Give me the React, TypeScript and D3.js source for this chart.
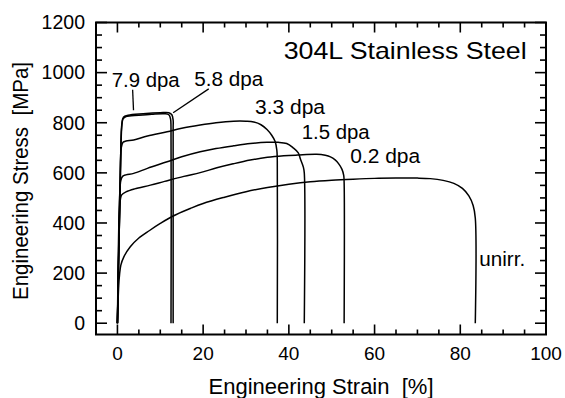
import React, { useEffect, useRef } from 'react';
import * as d3 from 'd3';

// strain [%], stress [MPa]
const unirr: [number, number][] = [
  [0, 0], [0.3, 150], [0.5, 195], [0.8, 232], [1.5, 265], [3, 305], [5, 340],
  [7.5, 370], [10, 398], [13, 428], [17, 458], [20, 478], [25, 503], [30, 525],
  [35, 542], [40, 555], [45, 565], [50, 571], [55, 575], [60, 578], [65, 579],
  [70, 579], [73, 577], [76, 570], [78.5, 558], [80.5, 538], [82, 508],
  [83, 470], [83.5, 420], [83.5, 0],
];
const dpa02: [number, number][] = [
  [0, 0], [0.5, 430], [0.7, 495], [1, 512], [2, 524], [4, 536], [7.7, 551],
  [11, 566], [15.5, 586], [19.3, 601], [23.2, 620], [27, 636], [31, 651],
  [35, 662], [38.8, 668], [42, 671], [46.5, 674], [48.5, 670], [49.7, 664],
  [50.8, 652], [51.6, 637], [52.4, 614], [52.8, 590], [52.9, 560], [52.9, 0],
];
const dpa15: [number, number][] = [
  [0, 0], [0.5, 500], [0.8, 570], [1.2, 586], [2, 592], [3.8, 598], [7, 618],
  [11.6, 644], [15, 664], [19.3, 684], [23, 697], [27.1, 708], [31, 717],
  [34.9, 722], [37.5, 722], [39.5, 717], [41, 700], [42.2, 680], [42.7, 655],
  [43.4, 622], [43.6, 600], [43.6, 0],
];
const dpa33: [number, number][] = [
  [0, 0], [0.6, 560], [0.9, 700], [1.3, 722], [2, 727], [3.8, 731], [7, 747],
  [11.6, 764], [15, 778], [19.3, 791], [23, 800], [27.1, 806], [30, 806],
  [31.8, 803], [33.5, 792], [34.9, 773], [36, 750], [36.8, 725], [37.2, 690],
  [37.3, 650], [37.3, 0],
];
const dpa58: [number, number][] = [
  [0, 0], [0.7, 600], [1.0, 790], [1.4, 822], [2.5, 830], [6, 836], [10, 840],
  [12, 840], [12.7, 832], [13.0, 810], [13.0, 780], [13.0, 0],
];
const dpa79: [number, number][] = [
  [0, 0], [0.7, 600], [1.0, 780], [1.3, 815], [2, 825], [5, 830], [8, 834],
  [11, 836], [12, 832], [12.4, 815], [12.5, 780], [12.5, 0],
];

const series = [unirr, dpa02, dpa15, dpa33, dpa58, dpa79];

const xMajor = [0, 20, 40, 60, 80, 100];
const yMajor = [0, 200, 400, 600, 800, 1000, 1200];

// curve labels: text, left x [%], baseline [MPa], rendered width
const labels = [
  { text: '7.9 dpa', x: -1.34, y: 944, w: 68 },
  { text: '5.8 dpa', x: 17.9, y: 946, w: 69 },
  { text: '3.3 dpa', x: 32.1, y: 835, w: 70 },
  { text: '1.5 dpa', x: 43.0, y: 734, w: 68 },
  { text: '0.2 dpa', x: 54.3, y: 640, w: 70 },
  { text: 'unirr.', x: 84.4, y: 228, w: 46 },
];
// leader lines [x1, y1, x2, y2] in data units
const leaders = [
  [3.55, 932, 3.75, 850],
  [21.3, 935, 13.0, 840],
];

const FONT = "'Liberation Sans', Arial, Helvetica, sans-serif";

const App = () => {
  const svgRef = useRef<SVGSVGElement>(null);

  useEffect(() => {
    const width = 565;
    const height = 398;
    const left = 96, right = 546, top = 22.5, bottom = 334.5;

    const x = d3.scaleLinear().domain([-5, 100]).range([left, right]);
    const y = d3.scaleLinear().domain([-45, 1200]).range([bottom, top]);

    const svg = d3.select(svgRef.current);
    svg.selectAll('*').remove();
    svg.attr('width', width).attr('height', height);

    svg.append('rect').attr('width', width).attr('height', height).attr('fill', '#fff');

    // ticks (inward on all four sides)
    const g = svg.append('g').attr('stroke', '#000').attr('stroke-width', 1.6);
    const xMinor = d3.range(0, 101, 5);
    const yMinor = d3.range(0, 1201, 50);
    xMinor.forEach((v) => {
      const len = v % 20 === 0 ? 10 : 5;
      g.append('line').attr('x1', x(v)).attr('x2', x(v)).attr('y1', bottom).attr('y2', bottom - len);
      g.append('line').attr('x1', x(v)).attr('x2', x(v)).attr('y1', top).attr('y2', top + len);
    });
    yMinor.forEach((v) => {
      const len = v % 200 === 0 ? 11 : 6;
      g.append('line').attr('y1', y(v)).attr('y2', y(v)).attr('x1', left).attr('x2', left + len);
      g.append('line').attr('y1', y(v)).attr('y2', y(v)).attr('x1', right).attr('x2', right - len);
    });

    // frame
    svg.append('rect')
      .attr('x', left).attr('y', top)
      .attr('width', right - left).attr('height', bottom - top)
      .attr('fill', 'none').attr('stroke', '#000').attr('stroke-width', 2);

    // tick labels
    svg.append('g').selectAll('text').data(xMajor).join('text')
      .attr('x', (d) => x(d)).attr('y', 360)
      .attr('text-anchor', 'middle')
      .attr('font-family', FONT).attr('font-size', 19)
      .text((d) => d);

    svg.append('g').selectAll('text').data(yMajor).join('text')
      .attr('x', 85).attr('y', (d) => y(d) + 6.8)
      .attr('text-anchor', 'end')
      .attr('font-family', FONT).attr('font-size', 19.5)
      .text((d) => d);

    // axis titles
    svg.append('text')
      .attr('x', (left + right) / 2).attr('y', 394)
      .attr('text-anchor', 'middle')
      .attr('font-family', FONT).attr('font-size', 21.5)
      .attr('xml:space', 'preserve')
      .attr('textLength', 225).attr('lengthAdjust', 'spacingAndGlyphs')
      .text('Engineering Strain  [%]');

    svg.append('text')
      .attr('transform', 'translate(28,181) rotate(-90)')
      .attr('text-anchor', 'middle')
      .attr('font-family', FONT).attr('font-size', 21.5)
      .attr('xml:space', 'preserve')
      .attr('textLength', 238).attr('lengthAdjust', 'spacingAndGlyphs')
      .text('Engineering Stress  [MPa]');

    // title
    svg.append('text')
      .attr('x', x(95.5)).attr('y', y(1055))
      .attr('text-anchor', 'end')
      .attr('font-family', FONT).attr('font-size', 24)
      .attr('textLength', 243).attr('lengthAdjust', 'spacingAndGlyphs')
      .text('304L Stainless Steel');

    // curves
    const line = d3.line<[number, number]>()
      .x((d) => x(d[0]))
      .y((d) => y(d[1]))
      .curve(d3.curveCatmullRom.alpha(0.5));

    svg.append('g').selectAll('path').data(series).join('path')
      .attr('d', (d) => line(d))
      .attr('fill', 'none')
      .attr('stroke', '#000')
      .attr('stroke-width', 1.5)
      .attr('stroke-linejoin', 'round');

    // leaders and labels
    svg.append('g').selectAll('line').data(leaders).join('line')
      .attr('x1', (d) => x(d[0])).attr('y1', (d) => y(d[1]))
      .attr('x2', (d) => x(d[2])).attr('y2', (d) => y(d[3]))
      .attr('stroke', '#000').attr('stroke-width', 1.3);

    svg.append('g').selectAll('text').data(labels).join('text')
      .attr('x', (d) => x(d.x)).attr('y', (d) => y(d.y))
      .attr('font-family', FONT).attr('font-size', 20.5)
      .attr('textLength', (d) => d.w).attr('lengthAdjust', 'spacingAndGlyphs')
      .text((d) => d.text);
  }, []);

  return <svg ref={svgRef} style={{ position: 'absolute', left: 0, top: 0 }}></svg>;
};

export default App;
